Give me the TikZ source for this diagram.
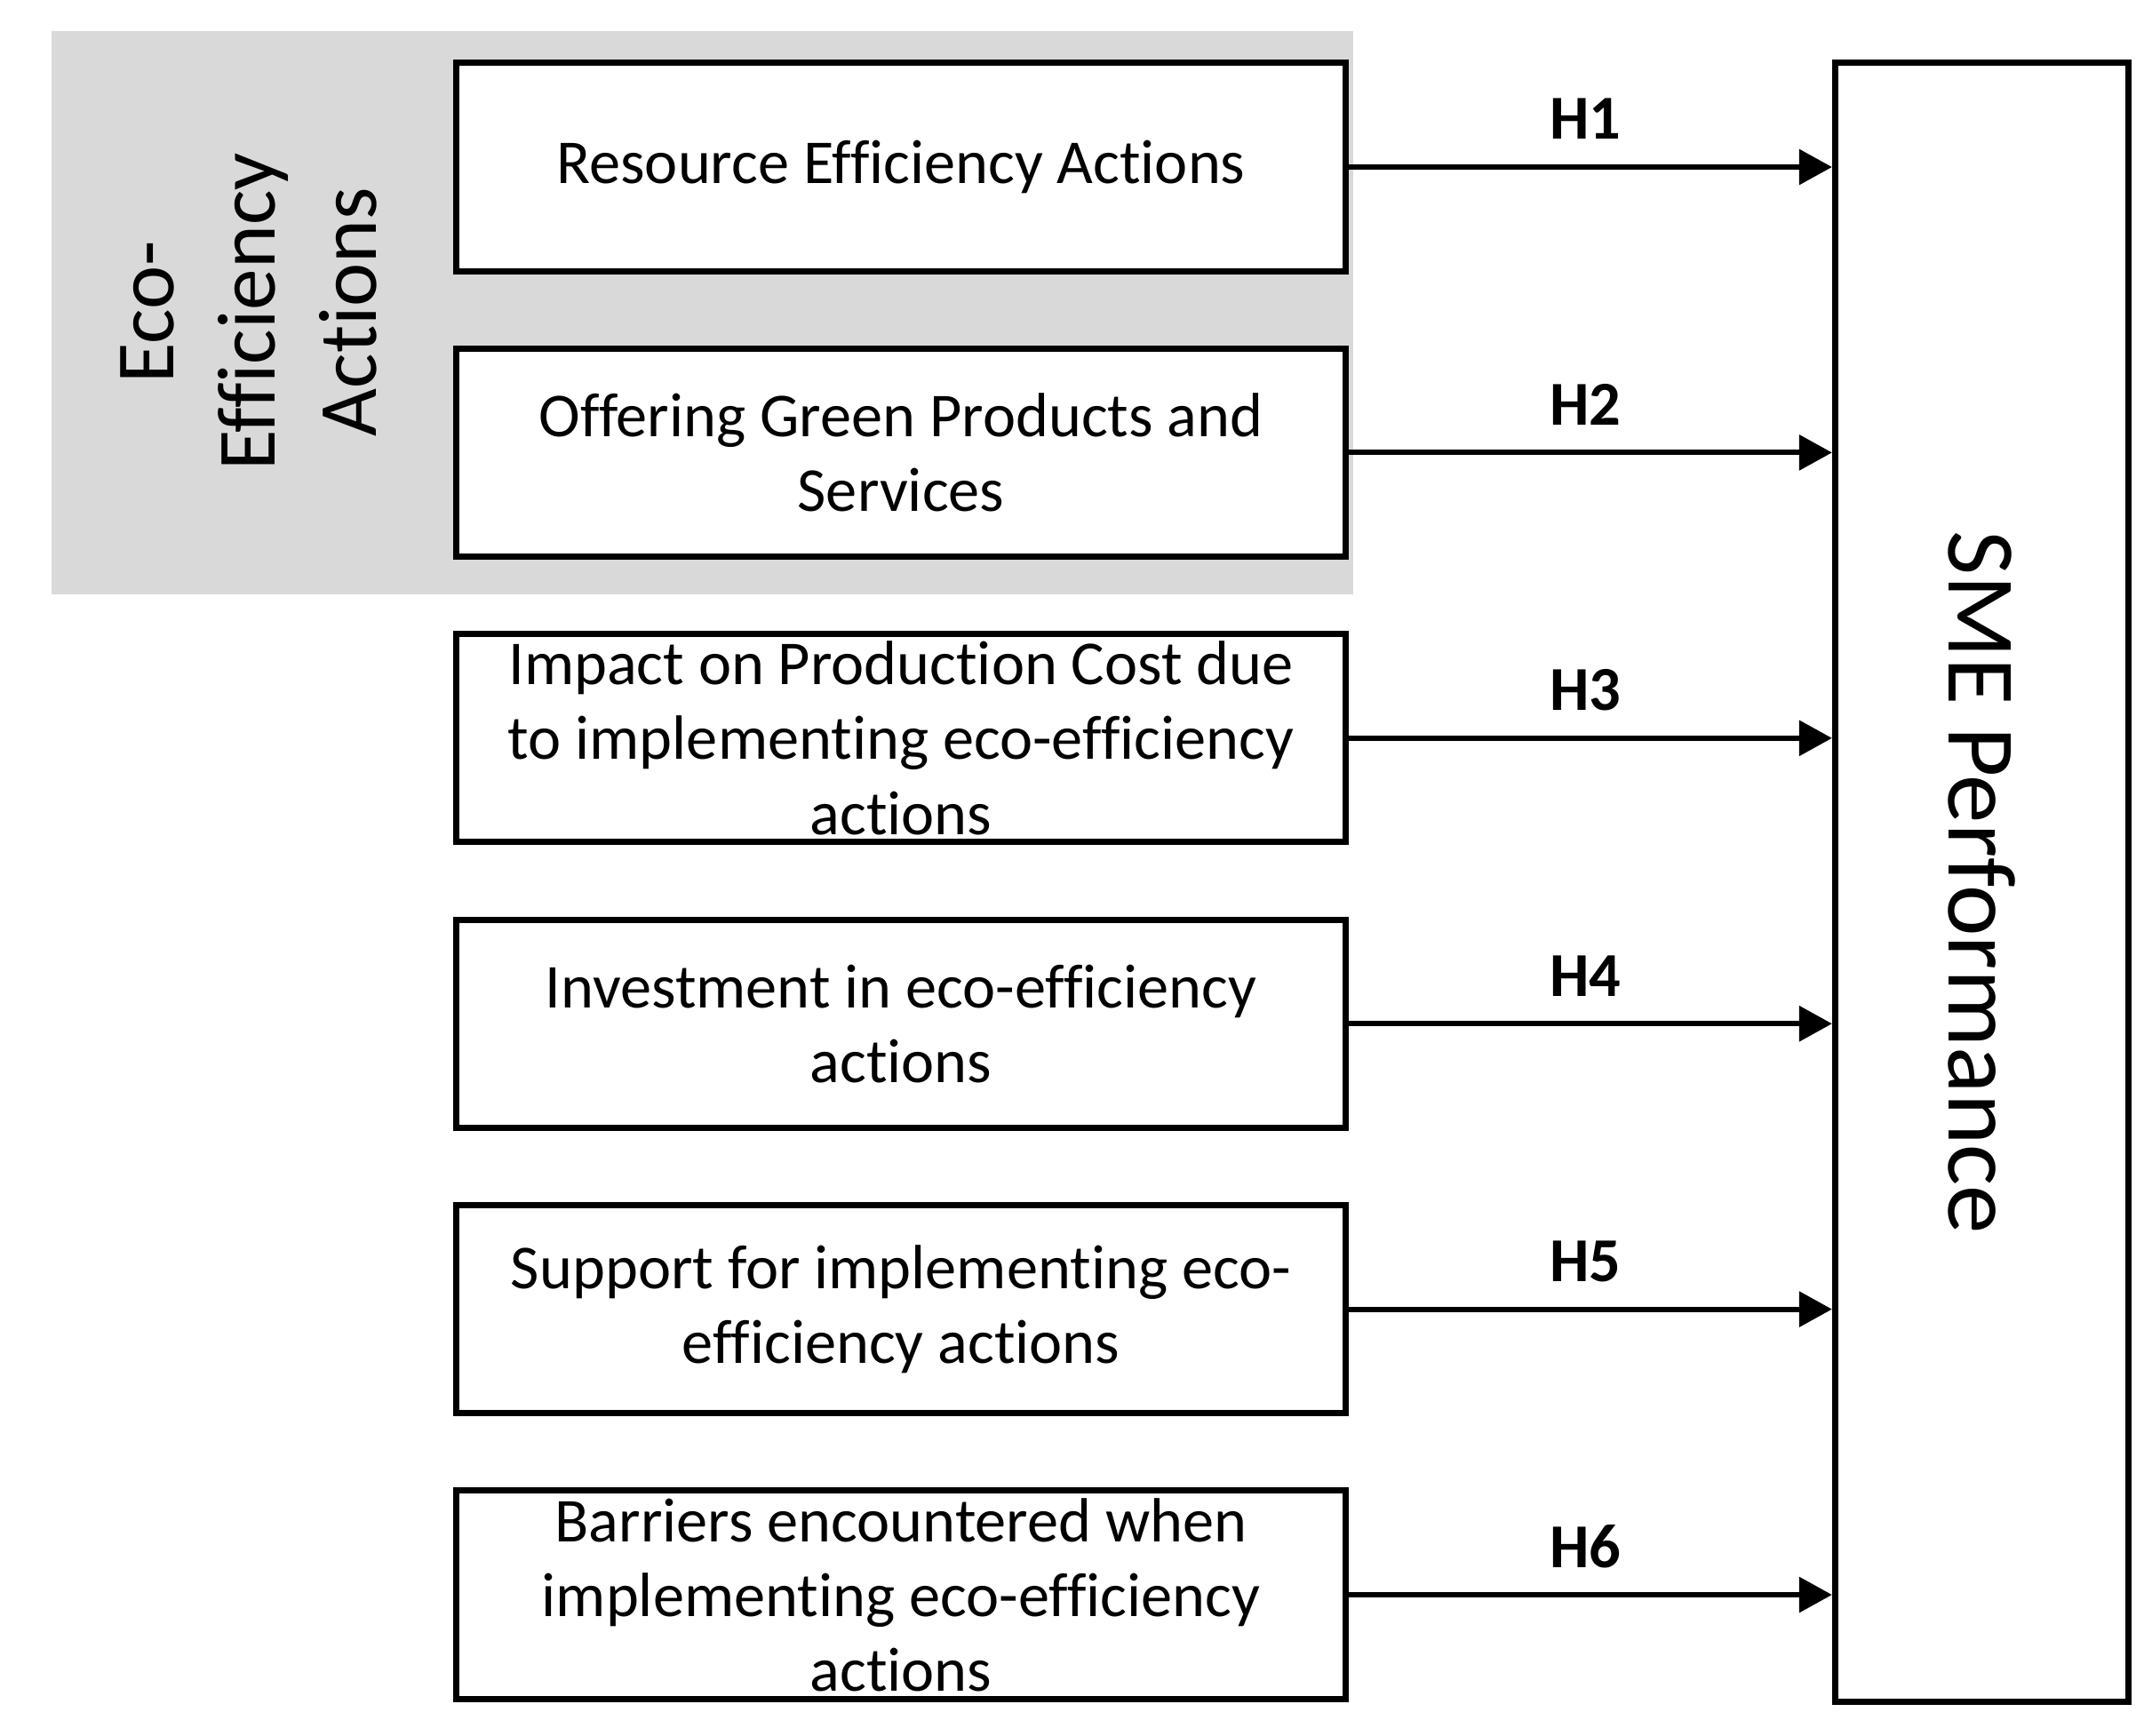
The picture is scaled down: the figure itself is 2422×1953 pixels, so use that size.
\documentclass[tikz,border=0pt]{standalone}
\usepackage{fontspec}
\setmainfont{Carlito}[Ligatures=NoCommon]
\usetikzlibrary{arrows.meta}
\definecolor{ecogray}{RGB}{217,217,217}
\begin{document}
\begin{tikzpicture}[x=0.01cm,y=-0.01cm,
  factor/.style={draw, line width=0.07cm, fill=white, minimum width=10cm,
    minimum height=2.34cm, align=center, inner sep=0pt,
    font=\fontsize{20pt}{23.9pt}\selectfont},
  hyp/.style={font=\bfseries\fontsize{20pt}{24pt}\selectfont, inner sep=0pt},
  link/.style={-{Triangle[length=0.37cm,width=0.39cm]}, line width=0.06cm}]
\useasboundingbox (0,0) rectangle (2422,1953);
\node[fill=ecogray, minimum width=14.64cm, minimum height=6.34cm, inner sep=0pt,
  anchor=north west] (grp) at (57,34) {};
\node[rotate=90, align=center, inner sep=0pt,
  font=\fontsize{26.5pt}{32.4pt}\selectfont] (eco) at (280,351)
  {Eco-\\Efficiency\\Actions};
\node[factor] (b1) at (1014,188) {\raisebox{-0.08cm}{Resource Efficiency Actions}};
\node[factor] (b2) at (1014,509.4) {Offering Green Products and\\Services};
\node[factor] (b3) at (1014,830.8) {Impact on Production Cost due\\to implementing eco-efficiency\\actions};
\node[factor] (b4) at (1014,1152.2) {Investment in eco-efficiency\\actions};
\node[factor] (b5) at (1014,1473.6) {Support for implementing eco-\\efficiency actions};
\node[factor] (b6) at (1014,1795) {Barriers encountered when\\implementing eco-efficiency\\actions};
\node[draw, line width=0.07cm, minimum width=3.3cm, minimum height=18.43cm,
  inner sep=0pt] (sme) at (2230.5,993) {};
\node[rotate=-90, inner sep=0pt, font=\fontsize{31pt}{36pt}\selectfont]
  (smet) at (sme.center) {SME Performance};
\foreach \i in {1,...,6}{
  \draw[link] (b\i.east) -- (b\i.east -| sme.west)
    node[hyp, pos=0.49, yshift=0.54cm] (h\i) {H\i};
}
\end{tikzpicture}
\end{document}
